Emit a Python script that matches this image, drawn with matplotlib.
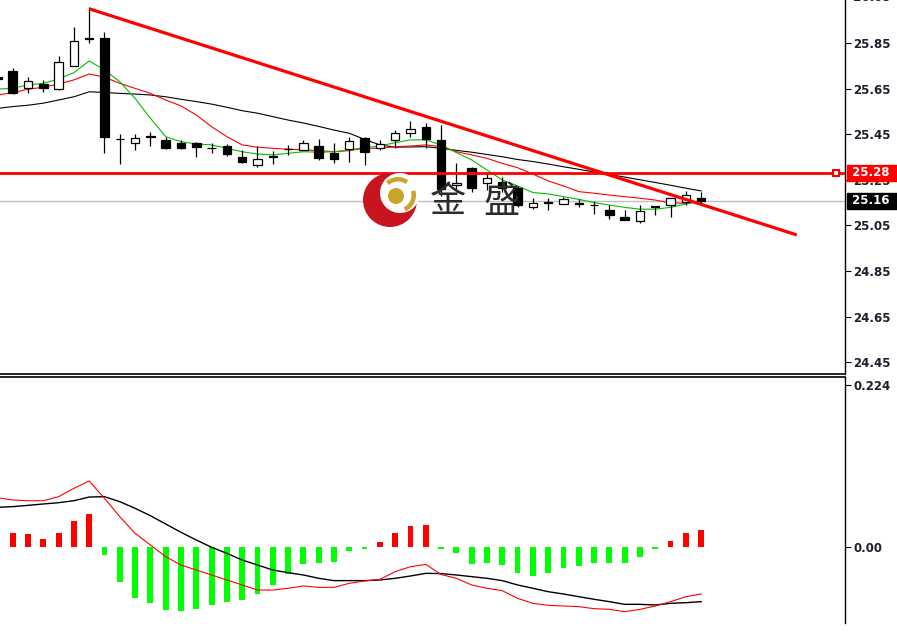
import matplotlib
matplotlib.use("Agg")
import matplotlib.pyplot as plt
from matplotlib.patches import Circle, Wedge
import matplotlib.transforms as mtransforms

# ---------------- data ----------------
bar_index = list(range(-1, 46))

opens  = [25.700, 25.729, 25.651, 25.669, 25.647, 25.750, 25.871, 25.873, 25.430, 25.410, 25.440,
          25.425, 25.413, 25.413, 25.389, 25.398, 25.349, 25.315, 25.353, 25.385, 25.381, 25.398,
          25.369, 25.384, 25.432, 25.391, 25.425, 25.457, 25.483, 25.425, 25.227, 25.300, 25.236,
          25.242, 25.213, 25.129, 25.151, 25.143, 25.150, 25.140, 25.118, 25.088, 25.071, 25.133,
          25.139, 25.154, 25.169]
highs  = [25.712, 25.742, 25.700, 25.688, 25.793, 25.919, 26.007, 25.900, 25.451, 25.451, 25.458,
          25.439, 25.425, 25.416, 25.410, 25.406, 25.381, 25.400, 25.378, 25.403, 25.425, 25.428,
          25.413, 25.439, 25.436, 25.425, 25.468, 25.508, 25.498, 25.490, 25.324, 25.308, 25.286,
          25.261, 25.223, 25.169, 25.169, 25.176, 25.164, 25.158, 25.139, 25.118, 25.139, 25.135,
          25.170, 25.202, 25.198]
lows   = [25.676, 25.626, 25.629, 25.636, 25.645, 25.750, 25.849, 25.369, 25.319, 25.381, 25.400,
          25.384, 25.384, 25.351, 25.369, 25.354, 25.322, 25.307, 25.319, 25.359, 25.381, 25.337,
          25.325, 25.329, 25.315, 25.381, 25.388, 25.436, 25.388, 25.179, 25.205, 25.198, 25.205,
          25.196, 25.132, 25.121, 25.118, 25.143, 25.129, 25.100, 25.077, 25.074, 25.059, 25.096,
          25.086, 25.139, 25.147]
closes = [25.690, 25.629, 25.683, 25.651, 25.765, 25.860, 25.869, 25.439, 25.428, 25.432, 25.439,
          25.388, 25.388, 25.395, 25.388, 25.363, 25.327, 25.340, 25.350, 25.383, 25.413, 25.344,
          25.340, 25.421, 25.373, 25.407, 25.454, 25.471, 25.428, 25.210, 25.236, 25.213, 25.258,
          25.213, 25.139, 25.147, 25.150, 25.164, 25.143, 25.139, 25.096, 25.074, 25.115, 25.132,
          25.169, 25.183, 25.157]

ma_fast = [25.648, 25.651, 25.666, 25.673, 25.692, 25.720, 25.771, 25.732, 25.680, 25.607, 25.520,
           25.439, 25.417, 25.407, 25.403, 25.388, 25.373, 25.363, 25.359, 25.366, 25.373, 25.371,
           25.373, 25.381, 25.391, 25.398, 25.413, 25.425, 25.425, 25.403, 25.369, 25.337, 25.293,
           25.249, 25.223, 25.194, 25.188, 25.176, 25.164, 25.150, 25.139, 25.129, 25.121, 25.121,
           25.129, 25.144, 25.159]
ma_mid  = [25.622, 25.632, 25.647, 25.656, 25.670, 25.688, 25.714, 25.700, 25.673, 25.651, 25.629,
           25.600, 25.574, 25.534, 25.483, 25.439, 25.403, 25.393, 25.388, 25.384, 25.381, 25.378,
           25.373, 25.378, 25.388, 25.388, 25.395, 25.398, 25.403, 25.395, 25.373, 25.359, 25.344,
           25.322, 25.303, 25.275, 25.245, 25.223, 25.198, 25.191, 25.183, 25.176, 25.169, 25.161,
           25.148, 25.147, 25.153]
ma_slow = [25.563, 25.571, 25.577, 25.586, 25.600, 25.614, 25.636, 25.633, 25.629, 25.626, 25.622,
           25.614, 25.603, 25.593, 25.582, 25.568, 25.553, 25.542, 25.527, 25.512, 25.499, 25.484,
           25.468, 25.454, 25.427, 25.403, 25.393, 25.394, 25.395, 25.388, 25.379, 25.371, 25.361,
           25.351, 25.339, 25.330, 25.319, 25.307, 25.296, 25.284, 25.273, 25.262, 25.250, 25.238,
           25.226, 25.213, 25.201]

macd_hist = [0.0280, 0.0198, 0.0180, 0.0106, 0.0198, 0.0360, 0.0452, -0.0111, -0.0488, -0.0710,
             -0.0779, -0.0871, -0.0890, -0.0857, -0.0802, -0.0765, -0.0733, -0.0655, -0.0525,
             -0.0378, -0.0235, -0.0217, -0.0207, -0.0055, -0.0028, 0.0065, 0.0198, 0.0290, 0.0304,
             -0.0030, -0.0088, -0.0235, -0.0217, -0.0253, -0.0364, -0.0401, -0.0364, -0.0286,
             -0.0258, -0.0217, -0.0217, -0.0217, -0.0134, -0.0032, 0.0083, 0.0198, 0.0231]
macd_main = [0.0682, 0.0650, 0.0640, 0.0640, 0.0696, 0.0811, 0.0913, 0.0673, 0.0419, 0.0189,
             0.0028, -0.0134, -0.0249, -0.0318, -0.0387, -0.0456, -0.0525, -0.0595, -0.0595,
             -0.0571, -0.0539, -0.0558, -0.0558, -0.0502, -0.0470, -0.0447, -0.0341, -0.0272,
             -0.0240, -0.0380, -0.0433, -0.0525, -0.0571, -0.0604, -0.0710, -0.0779, -0.0806,
             -0.0816, -0.0825, -0.0853, -0.0862, -0.0894, -0.0862, -0.0816, -0.0756, -0.0687,
             -0.0650]
macd_signal = [0.0549, 0.0558, 0.0576, 0.0595, 0.0613, 0.0640, 0.0691, 0.0696, 0.0627, 0.0535,
               0.0433, 0.0318, 0.0203, 0.0097, -0.0004, -0.0088, -0.0180, -0.0249, -0.0318,
               -0.0355, -0.0387, -0.0433, -0.0465, -0.0465, -0.0465, -0.0456, -0.0433, -0.0401,
               -0.0364, -0.0368, -0.0387, -0.0410, -0.0433, -0.0465, -0.0525, -0.0571, -0.0618,
               -0.0650, -0.0687, -0.0723, -0.0756, -0.0793, -0.0793, -0.0802, -0.0779, -0.0770,
               -0.0756]

trend_x = [5, 51.25]
trend_y = [26.000, 25.008]
level_price = 25.28
current_price = 25.157
price_ticks = [24.45, 24.65, 24.85, 25.05, 25.25, 25.45, 25.65, 25.85]
macd_ticks = [0.00, 0.224]

# ---------------- figure ----------------
W, H = 897, 633
fig = plt.figure(figsize=(W / 100, H / 100), dpi=100)
fig.patch.set_facecolor("white")

right_px = 845
ax1 = fig.add_axes([0, 1 - 374 / H, right_px / W, 374 / H])
ax2 = fig.add_axes([0, 1 - 623 / H, right_px / W, (623 - 377) / H])

xlim = (-0.83, 54.4)
for ax in (ax1, ax2):
    ax.set_xlim(*xlim)
    ax.set_xticks([])
    ax.spines["left"].set_visible(False)
    ax.spines["right"].set_color("black")
    ax.spines["right"].set_linewidth(1.0)
    ax.yaxis.tick_right()
    ax.tick_params(axis="y", direction="out", length=4, width=0.8, pad=2,
                   labelsize=8.5, labelcolor="#1e1e2e", colors="black")
    for lab in ax.get_yticklabels():
        lab.set_fontweight("bold")

ax1.spines["top"].set_visible(False)
ax1.spines["bottom"].set_linewidth(1.2)
ax2.spines["bottom"].set_visible(False)
ax2.spines["top"].set_linewidth(1.2)

ax1.set_ylim(24.398, 26.0386)
ax2.set_ylim(-0.1051, 0.2351)

# current price gray line
ax1.axhline(current_price, color="#c0c0c0", lw=1.0, zorder=1)

# moving averages
ax1.plot(bar_index, ma_slow, color="black", lw=0.8, zorder=2)
ax1.plot(bar_index, ma_mid, color="#ff0000", lw=0.8, zorder=2)
ax1.plot(bar_index, ma_fast, color="#00c000", lw=0.8, zorder=2)

# candles
body_w = 0.55
for i, o, h, l, c in zip(bar_index, opens, highs, lows, closes):
    ax1.vlines(i, l, h, color="black", lw=0.9, zorder=3)
    bottom = min(o, c)
    height = max(abs(c - o), 0.0005)
    face = "white" if c > o else "black"
    ax1.bar(i, height, bottom=bottom, width=body_w, color=face, edgecolor="black",
            linewidth=0.9, zorder=4)

# horizontal level & trend line
ax1.axhline(level_price, color="#ff0000", lw=2.0, zorder=5)
ax1.plot(trend_x, trend_y, color="#ff0000", lw=2.3, zorder=5, solid_capstyle="butt")
trans1 = mtransforms.blended_transform_factory(ax1.transAxes, ax1.transData)
ax1.plot([836 / right_px], [level_price], marker="s", ms=5, mfc="white", mec="#ff0000",
         mew=1.5, transform=trans1, zorder=6, clip_on=False)

# price axis ticks
ax1.set_yticks(price_ticks)
ax1.set_yticklabels([f"{p:.2f}" for p in price_ticks], fontweight="bold")
ax1.text(1.0, 26.05, "  26.05", transform=trans1, ha="left", va="center", fontsize=8.5,
         fontweight="bold", color="#1e1e2e", clip_on=False)
# tick for 26.05 is outside; price labels
ax1.text(1.004, level_price, f" {level_price:.2f}  ", transform=trans1, ha="left", va="center",
         fontsize=8.5, fontweight="bold", color="white", clip_on=False, zorder=10,
         bbox=dict(boxstyle="square,pad=0.15", fc="#ff0000", ec="#ff0000"))
ax1.text(1.004, current_price, f" {current_price:.2f}  ", transform=trans1, ha="left",
         va="center", fontsize=8.5, fontweight="bold", color="white", clip_on=False, zorder=10,
         bbox=dict(boxstyle="square,pad=0.15", fc="black", ec="black"))

# MACD panel
hist_colors = ["#ff0000" if v >= 0 else "#00ff00" for v in macd_hist]
ax2.bar(bar_index, macd_hist, width=0.38, color=hist_colors, zorder=2)
ax2.plot(bar_index, macd_signal, color="black", lw=1.0, zorder=3)
ax2.plot(bar_index, macd_main, color="#ff0000", lw=0.8, zorder=3)
ax2.set_yticks(macd_ticks)
ax2.set_yticklabels(["0.00", "0.224"], fontweight="bold")

# ---------------- watermark logo ----------------
ov = fig.add_axes([0, 0, 1, 1], zorder=5)
ov.set_xlim(0, W)
ov.set_ylim(H, 0)
ov.axis("off")
ov.patch.set_alpha(0)
ov.add_patch(Circle((390, 200), 27, fc="#c8141e", ec="none"))
ov.add_patch(Circle((400, 193), 20, fc="white", ec="none"))
ov.add_patch(Wedge((398, 195), 18, 228, 305, width=4.5, fc="#c9a52c", ec="none"))
ov.add_patch(Wedge((398, 195), 18, -15, 65, width=4.5, fc="#c9a52c", ec="none"))
ov.add_patch(Circle((396, 196), 8, fc="#c9a52c", ec="none"))
ov.text(448, 202, "金", fontsize=26, family=["Noto Sans CJK SC", "DejaVu Sans"],
        color="#2b2b2b", ha="center", va="center")
ov.text(501, 202, "盛", fontsize=26, family=["Noto Sans CJK SC", "DejaVu Sans"],
        color="#2b2b2b", ha="center", va="center")

fig.savefig("out.png", dpi=100, facecolor="white")
